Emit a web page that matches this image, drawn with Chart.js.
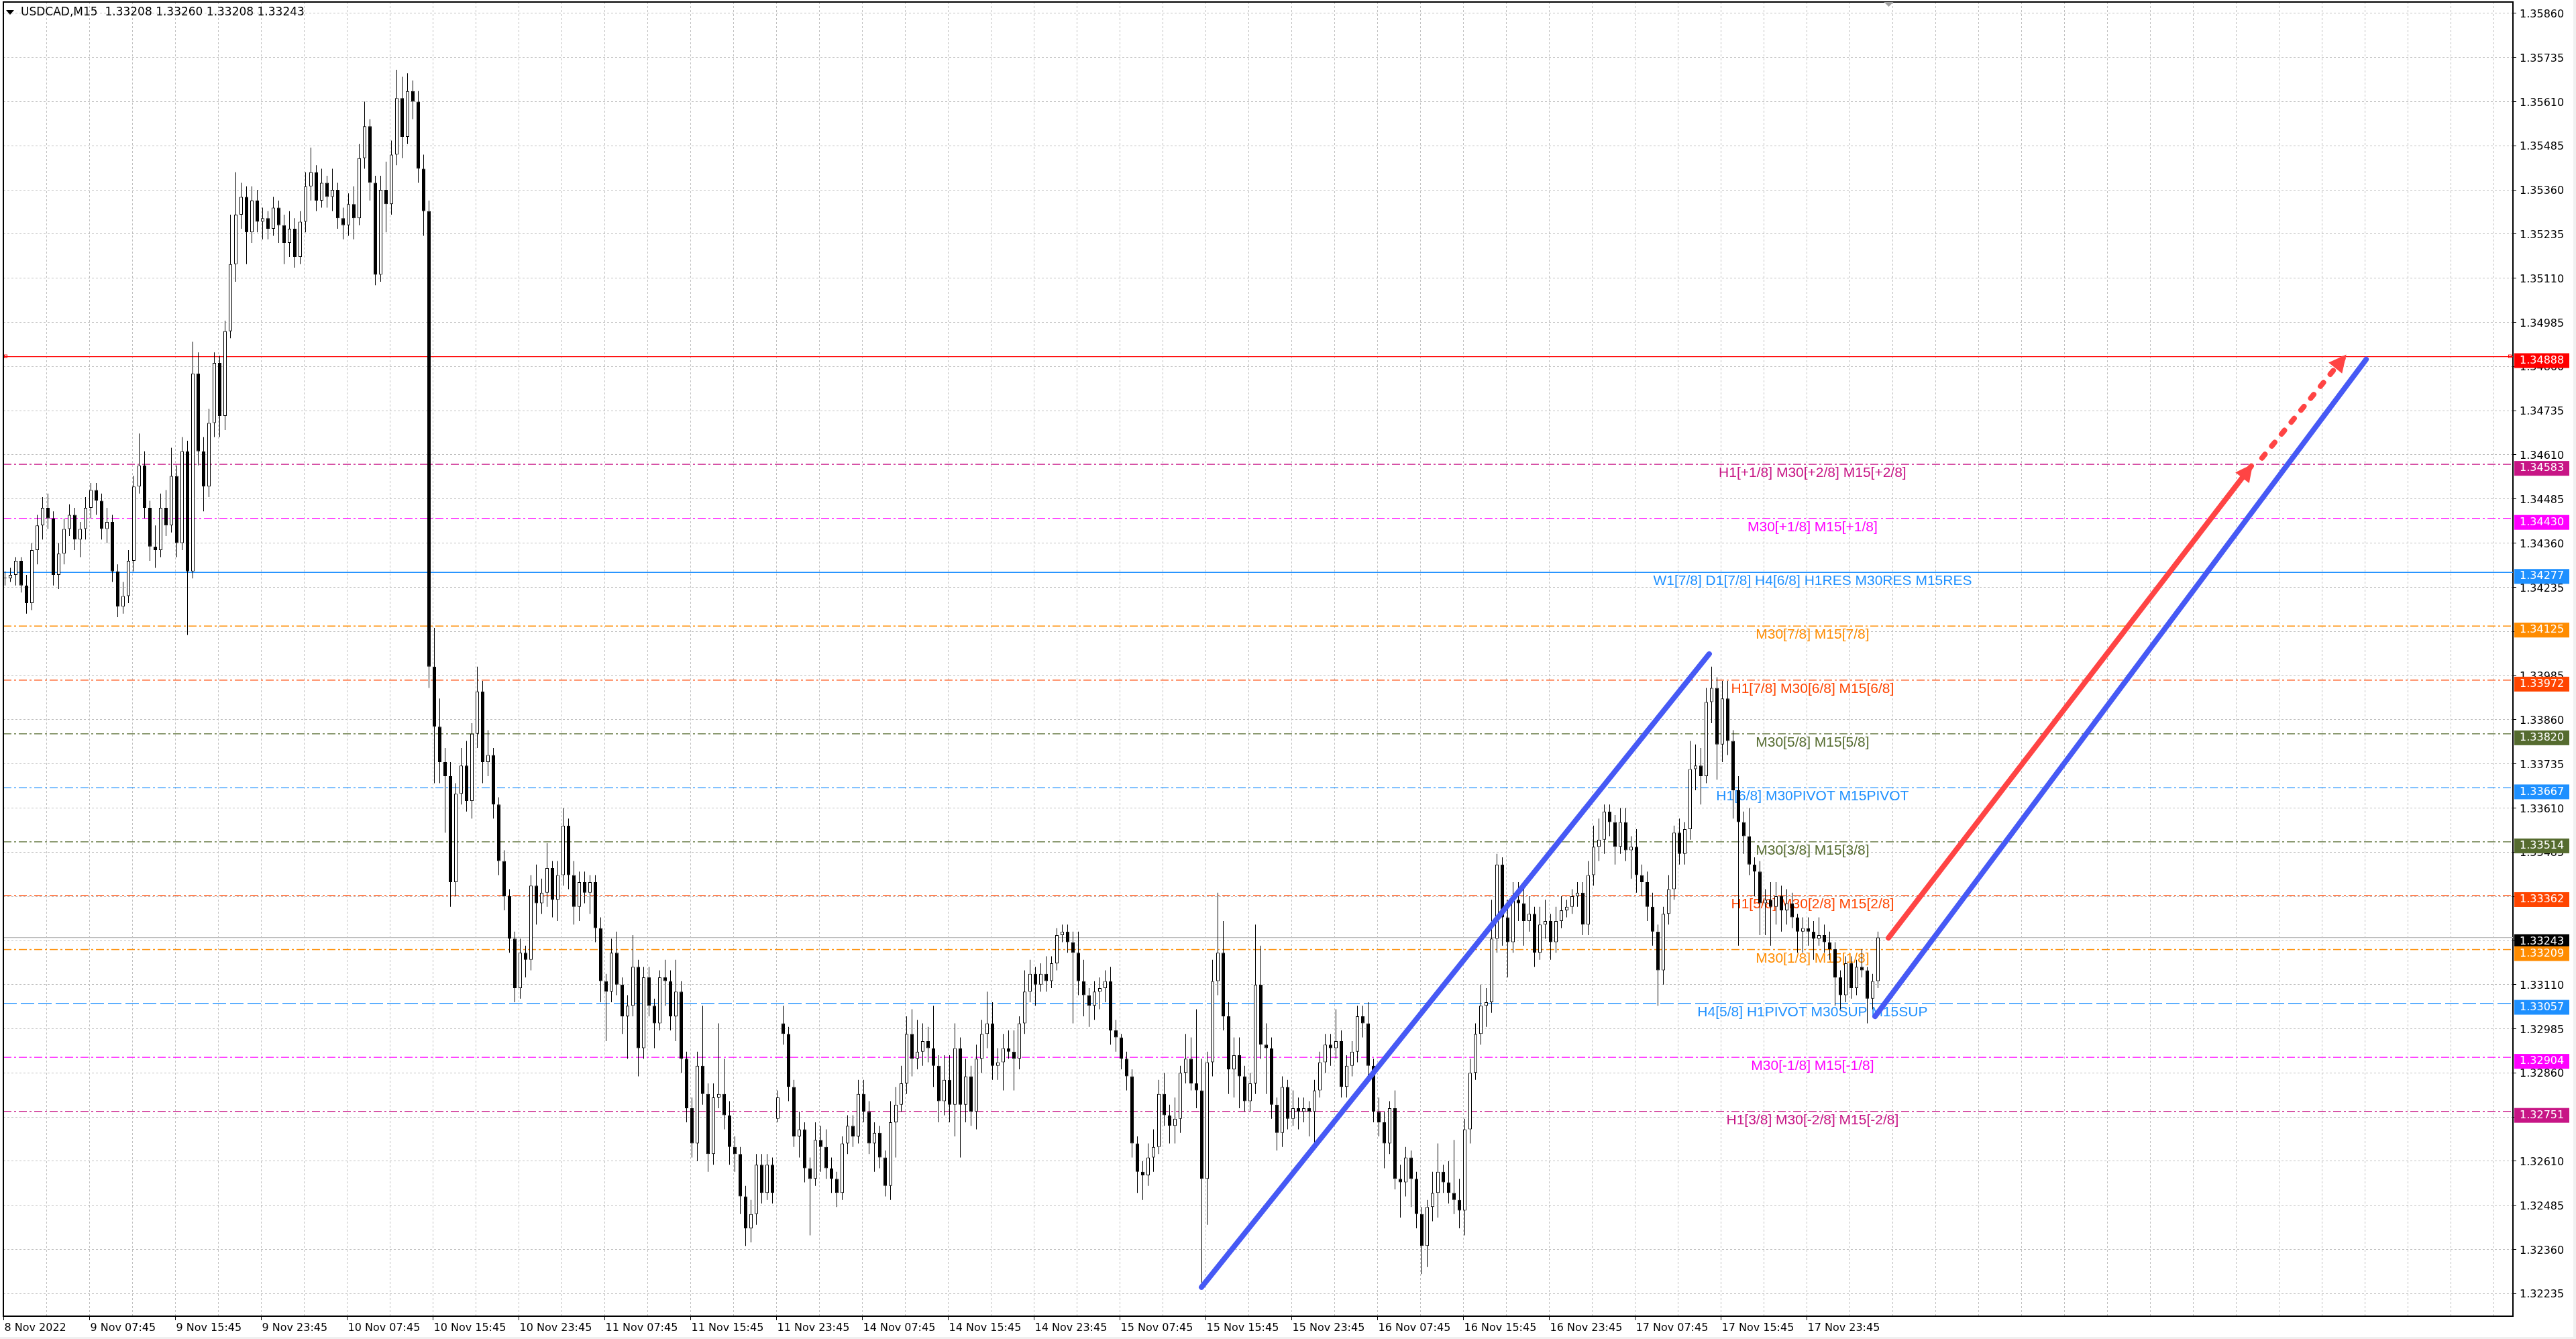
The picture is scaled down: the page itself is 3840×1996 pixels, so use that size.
<!DOCTYPE html>
<html>
<head>
<meta charset="utf-8">
<title>USDCAD,M15</title>
<script src="https://cdn.jsdelivr.net/npm/chart.js@4.4.1/dist/chart.umd.min.js"></script>
<style>
  html, body { margin: 0; padding: 0; background: #f0f0f0; overflow: hidden; }
  #wrap { width: 3836px; height: 1993px; }
</style>
</head>
<body>
<div id="wrap"><canvas id="chart" width="3836" height="1993"></canvas></div>
<script>
// ---- data (30 minute candles) ----
const symbolTitle = 'USDCAD,M15  1.33208 1.33260 1.33208 1.33243';

const opens = [
  1.3426,1.3426,1.3427,1.3431,1.3424,1.3419,1.3434,1.3441,1.3446,1.3443,
  1.3427,1.3433,1.3440,1.3444,1.3437,1.3440,1.3446,1.3451,1.3448,1.3440,
  1.3442,1.3428,1.3418,1.3421,1.3431,1.3452,1.3458,1.3446,1.3435,1.3434,
  1.3446,1.3441,1.3455,1.3436,1.3462,1.3428,1.3484,1.3462,1.3452,1.3470,
  1.3487,1.3472,1.3496,1.3515,1.3529,1.3534,1.3524,1.3533,1.3527,1.3528,
  1.3525,1.3531,1.3526,1.3521,1.3525,1.3517,1.3527,1.3537,1.3541,1.3533,
  1.3538,1.3534,1.3536,1.3528,1.3526,1.3532,1.3528,1.3545,1.3554,1.3538,
  1.3512,1.3536,1.3532,1.3546,1.3562,1.3551,1.3564,1.3561,1.3542,1.3530,
  1.3401,1.3384,1.3374,1.3370,1.3340,1.3365,1.3373,1.3363,1.3382,1.3394,
  1.3374,1.3376,1.3362,1.3346,1.3336,1.3324,1.3310,1.3320,1.3318,1.3339,
  1.3334,1.3337,1.3344,1.3335,1.3342,1.3356,1.3342,1.3333,1.3340,1.3337,
  1.3340,1.3327,1.3312,1.3309,1.3320,1.3311,1.3302,1.3305,1.3316,1.3293,
  1.3313,1.3305,1.3300,1.3313,1.3312,1.3302,1.3309,1.3290,1.3276,1.3266,
  1.3288,1.3280,1.3263,1.3279,1.3280,1.3274,1.3265,1.3263,1.3251,1.3242,
  1.3246,1.3260,1.3252,1.3260,1.3273,1.3300,1.3297,1.3282,1.3268,1.3270,
  1.3259,1.3256,1.3267,1.3265,1.3259,1.3256,1.3252,1.3266,1.3271,1.3268,
  1.3280,1.3275,1.3266,1.3269,1.3262,1.3254,1.3272,1.3277,1.3283,1.3297,
  1.3290,1.3292,1.3295,1.3293,1.3288,1.3278,1.3284,1.3277,1.3293,1.3277,
  1.3285,1.3275,1.3290,1.3297,1.3300,1.3288,1.3289,1.3293,1.3292,1.3290,
  1.3300,1.3309,1.3314,1.3311,1.3314,1.3312,1.3317,1.3325,1.3326,1.3323,
  1.3320,1.3312,1.3308,1.3305,1.3309,1.3310,1.3312,1.3298,1.3296,1.3290,
  1.3285,1.3266,1.3258,1.3257,1.3262,1.3265,1.3280,1.3274,1.3271,1.3273,
  1.3286,1.3290,1.3283,1.3281,1.3256,1.3289,1.3312,1.3320,1.3302,1.3287,
  1.3291,1.3285,1.3278,1.3283,1.3311,1.3294,1.3293,1.3277,1.3269,1.3282,
  1.3273,1.3276,1.3275,1.3276,1.3275,1.3281,1.3289,1.3294,1.3293,1.3295,
  1.3282,1.3288,1.3292,1.3302,1.3300,1.3288,1.3275,1.3272,1.3266,1.3276,
  1.3256,1.3255,1.3262,1.3256,1.3246,1.3237,1.3248,1.3252,1.3258,1.3255,
  1.3252,1.3250,1.3247,1.3270,1.3286,1.3297,1.3305,1.3306,1.3324,1.3345,
  1.3330,1.3323,1.3335,1.3334,1.3329,1.3331,1.3320,1.3328,1.3329,1.3323,
  1.3329,1.3332,1.3333,1.3336,1.3337,1.3328,1.3342,1.3350,1.3352,1.3360,
  1.3357,1.3350,1.3357,1.3349,1.3350,1.3342,1.3340,1.3333,1.3326,1.3315,
  1.3331,1.3338,1.3354,1.3348,1.3355,1.3372,1.3373,1.3370,1.3391,1.3395,
  1.3379,1.3392,1.3380,1.3366,1.3357,1.3353,1.3345,1.3343,1.3334,1.3335,
  1.3333,1.3336,1.3332,1.3334,1.3330,1.3326,1.3327,1.3326,1.3324,1.3325,
  1.3323,1.3321,1.3313,1.3308,1.3317,1.3310,1.3316,1.3315,1.3307,1.3312
];
const highs = [
  1.3428,1.3429,1.3432,1.3432,1.3427,1.3436,1.3444,1.3449,1.3450,1.3445,
  1.3436,1.3443,1.3447,1.3446,1.3442,1.3449,1.3453,1.3453,1.3450,1.3446,
  1.3444,1.3430,1.3425,1.3434,1.3455,1.3467,1.3462,1.3448,1.3441,1.3450,
  1.3451,1.3463,1.3458,1.3466,1.3465,1.3493,1.3490,1.3466,1.3474,1.3490,
  1.3489,1.3499,1.3529,1.3541,1.3538,1.3537,1.3537,1.3536,1.3531,1.3530,
  1.3534,1.3533,1.3529,1.3530,1.3528,1.3530,1.3541,1.3548,1.3543,1.3542,
  1.3540,1.3542,1.3538,1.3531,1.3535,1.3537,1.3549,1.3561,1.3556,1.3540,
  1.3540,1.3544,1.3550,1.3570,1.3568,1.3569,1.3567,1.3564,1.3546,1.3533,
  1.3412,1.3392,1.3378,1.3374,1.3368,1.3378,1.3380,1.3385,1.3401,1.3397,
  1.3383,1.3378,1.3364,1.3349,1.3338,1.3326,1.3324,1.3322,1.3342,1.3345,
  1.3341,1.3351,1.3346,1.3346,1.3361,1.3358,1.3346,1.3343,1.3343,1.3342,
  1.3342,1.3330,1.3314,1.3324,1.3326,1.3313,1.3308,1.3325,1.3318,1.3316,
  1.3316,1.3307,1.3315,1.3318,1.3315,1.3318,1.3312,1.3292,1.3279,1.3292,
  1.3305,1.3283,1.3283,1.3300,1.3290,1.3278,1.3268,1.3265,1.3254,1.3250,
  1.3263,1.3263,1.3263,1.3262,1.3281,1.3305,1.3299,1.3284,1.3275,1.3272,
  1.3262,1.3272,1.3271,1.3270,1.3262,1.3258,1.3268,1.3274,1.3274,1.3284,
  1.3284,1.3278,1.3272,1.3271,1.3264,1.3278,1.3282,1.3288,1.3302,1.3304,
  1.3301,1.3300,1.3299,1.3305,1.3291,1.3291,1.3291,1.3300,1.3296,1.3290,
  1.3288,1.3294,1.3301,1.3309,1.3306,1.3293,1.3297,1.3298,1.3298,1.3302,
  1.3315,1.3318,1.3316,1.3317,1.3319,1.3319,1.3327,1.3328,1.3328,1.3326,
  1.3326,1.3318,1.3310,1.3312,1.3313,1.3315,1.3316,1.3301,1.3297,1.3292,
  1.3287,1.3268,1.3261,1.3266,1.3270,1.3284,1.3286,1.3277,1.3279,1.3288,
  1.3297,1.3296,1.3304,1.3290,1.3292,1.3318,1.3337,1.3329,1.3306,1.3296,
  1.3296,1.3288,1.3286,1.3328,1.3322,1.3300,1.3296,1.3279,1.3285,1.3284,
  1.3281,1.3279,1.3279,1.3278,1.3284,1.3292,1.3297,1.3297,1.3304,1.3298,
  1.3291,1.3295,1.3305,1.3305,1.3306,1.3290,1.3279,1.3275,1.3278,1.3281,
  1.3260,1.3265,1.3264,1.3258,1.3248,1.3250,1.3258,1.3266,1.3260,1.3261,
  1.3267,1.3256,1.3273,1.3290,1.3300,1.3311,1.3310,1.3335,1.3348,1.3347,
  1.3335,1.3340,1.3340,1.3339,1.3336,1.3333,1.3333,1.3335,1.3331,1.3333,
  1.3336,1.3335,1.3338,1.3340,1.3340,1.3346,1.3356,1.3358,1.3362,1.3362,
  1.3359,1.3361,1.3361,1.3353,1.3355,1.3345,1.3343,1.3337,1.3328,1.3333,
  1.3342,1.3356,1.3358,1.3357,1.3380,1.3379,1.3378,1.3395,1.3401,1.3398,
  1.3397,1.3397,1.3383,1.3370,1.3360,1.3361,1.3347,1.3346,1.3338,1.3340,
  1.3340,1.3339,1.3338,1.3337,1.3331,1.3330,1.3330,1.3329,1.3330,1.3328,
  1.3326,1.3323,1.3315,1.3319,1.3319,1.3318,1.3321,1.3316,1.3314,1.3326
];
const lows = [
  1.3424,1.3425,1.3424,1.3422,1.3416,1.3417,1.3430,1.3437,1.3440,1.3424,
  1.3423,1.3430,1.3438,1.3434,1.3432,1.3437,1.3443,1.3444,1.3437,1.3436,
  1.3425,1.3415,1.3416,1.3419,1.3428,1.3450,1.3443,1.3431,1.3429,1.3432,
  1.3438,1.3439,1.3432,1.3434,1.3410,1.3426,1.3458,1.3445,1.3449,1.3466,
  1.3466,1.3468,1.3494,1.3510,1.3525,1.3515,1.3521,1.3524,1.3522,1.3522,
  1.3523,1.3521,1.3515,1.3517,1.3514,1.3515,1.3524,1.3533,1.3530,1.3531,
  1.3531,1.3530,1.3525,1.3522,1.3523,1.3522,1.3526,1.3542,1.3533,1.3509,
  1.3510,1.3524,1.3529,1.3543,1.3545,1.3549,1.3556,1.3538,1.3523,1.3395,
  1.3368,1.3368,1.3354,1.3333,1.3336,1.3362,1.3360,1.3358,1.3378,1.3368,
  1.3370,1.3358,1.3342,1.3332,1.3320,1.3306,1.3307,1.3313,1.3315,1.3328,
  1.3331,1.3333,1.3330,1.3329,1.3339,1.3338,1.3328,1.3329,1.3334,1.3331,
  1.3323,1.3306,1.3295,1.3306,1.3308,1.3297,1.3290,1.3302,1.3285,1.3290,
  1.3302,1.3293,1.3298,1.3305,1.3298,1.3295,1.3286,1.3272,1.3262,1.3261,
  1.3277,1.3258,1.3260,1.3276,1.3270,1.3260,1.3258,1.3246,1.3237,1.3238,
  1.3243,1.3249,1.3250,1.3249,1.3272,1.3294,1.3278,1.3265,1.3262,1.3255,
  1.3240,1.3254,1.3258,1.3256,1.3252,1.3248,1.3250,1.3263,1.3265,1.3266,
  1.3272,1.3263,1.3258,1.3259,1.3251,1.3250,1.3262,1.3275,1.3280,1.3285,
  1.3287,1.3288,1.3289,1.3282,1.3272,1.3274,1.3272,1.3268,1.3262,1.3272,
  1.3271,1.3270,1.3286,1.3293,1.3284,1.3284,1.3281,1.3290,1.3281,1.3287,
  1.3297,1.3306,1.3305,1.3309,1.3309,1.3310,1.3315,1.3323,1.3320,1.3300,
  1.3308,1.3302,1.3299,1.3301,1.3304,1.3306,1.3294,1.3292,1.3287,1.3281,
  1.3262,1.3252,1.3250,1.3254,1.3258,1.3263,1.3271,1.3266,1.3266,1.3269,
  1.3283,1.3281,1.3276,1.3225,1.3243,1.3285,1.3308,1.3298,1.3280,1.3279,
  1.3276,1.3275,1.3275,1.3280,1.3290,1.3280,1.3273,1.3264,1.3265,1.3270,
  1.3271,1.3270,1.3272,1.3268,1.3266,1.3279,1.3286,1.3288,1.3290,1.3279,
  1.3279,1.3285,1.3289,1.3296,1.3285,1.3272,1.3268,1.3259,1.3263,1.3253,
  1.3245,1.3251,1.3248,1.3242,1.3229,1.3231,1.3244,1.3245,1.3252,1.3249,
  1.3246,1.3242,1.3240,1.3266,1.3284,1.3294,1.3299,1.3303,1.3320,1.3322,
  1.3313,1.3320,1.3329,1.3322,1.3326,1.3316,1.3318,1.3324,1.3318,1.3320,
  1.3327,1.3330,1.3331,1.3333,1.3325,1.3325,1.3339,1.3346,1.3348,1.3353,
  1.3345,1.3348,1.3346,1.3341,1.3337,1.3336,1.3329,1.3322,1.3305,1.3311,
  1.3328,1.3335,1.3345,1.3345,1.3352,1.3366,1.3362,1.3368,1.3385,1.3369,
  1.3374,1.3376,1.3358,1.3322,1.3348,1.3342,1.3336,1.3325,1.3325,1.3322,
  1.3328,1.3326,1.3328,1.3327,1.3320,1.3320,1.3322,1.3318,1.3322,1.3320,
  1.3318,1.3305,1.3304,1.3306,1.3307,1.3308,1.3313,1.3300,1.3304,1.3310
];
const closes = [
  1.3426,1.3427,1.3431,1.3424,1.3419,1.3434,1.3441,1.3446,1.3443,1.3427,
  1.3433,1.3440,1.3444,1.3437,1.3440,1.3446,1.3451,1.3448,1.3440,1.3442,
  1.3428,1.3418,1.3421,1.3431,1.3452,1.3458,1.3446,1.3435,1.3434,1.3446,
  1.3441,1.3455,1.3436,1.3462,1.3428,1.3484,1.3462,1.3452,1.3470,1.3487,
  1.3472,1.3496,1.3515,1.3529,1.3534,1.3524,1.3533,1.3527,1.3528,1.3525,
  1.3531,1.3526,1.3521,1.3525,1.3517,1.3527,1.3537,1.3541,1.3533,1.3538,
  1.3534,1.3536,1.3528,1.3526,1.3532,1.3528,1.3545,1.3554,1.3538,1.3512,
  1.3536,1.3532,1.3546,1.3562,1.3551,1.3564,1.3561,1.3542,1.3530,1.3401,
  1.3384,1.3374,1.3370,1.3340,1.3365,1.3373,1.3363,1.3382,1.3394,1.3374,
  1.3376,1.3362,1.3346,1.3336,1.3324,1.3310,1.3320,1.3318,1.3339,1.3334,
  1.3337,1.3344,1.3335,1.3342,1.3356,1.3342,1.3333,1.3340,1.3337,1.3340,
  1.3327,1.3312,1.3309,1.3320,1.3311,1.3302,1.3305,1.3316,1.3293,1.3313,
  1.3305,1.3300,1.3313,1.3312,1.3302,1.3309,1.3290,1.3276,1.3266,1.3288,
  1.3280,1.3263,1.3279,1.3280,1.3274,1.3265,1.3263,1.3251,1.3242,1.3246,
  1.3260,1.3252,1.3260,1.3252,1.3279,1.3297,1.3282,1.3268,1.3270,1.3259,
  1.3256,1.3267,1.3265,1.3259,1.3256,1.3252,1.3266,1.3271,1.3268,1.3280,
  1.3275,1.3266,1.3269,1.3262,1.3254,1.3272,1.3277,1.3283,1.3297,1.3290,
  1.3292,1.3295,1.3293,1.3288,1.3278,1.3284,1.3277,1.3293,1.3277,1.3285,
  1.3275,1.3290,1.3297,1.3300,1.3288,1.3289,1.3293,1.3292,1.3290,1.3300,
  1.3309,1.3314,1.3311,1.3314,1.3312,1.3317,1.3325,1.3326,1.3323,1.3320,
  1.3312,1.3308,1.3305,1.3309,1.3310,1.3312,1.3298,1.3296,1.3290,1.3285,
  1.3266,1.3258,1.3257,1.3262,1.3265,1.3280,1.3274,1.3271,1.3273,1.3286,
  1.3290,1.3283,1.3281,1.3256,1.3289,1.3312,1.3320,1.3302,1.3287,1.3291,
  1.3285,1.3278,1.3283,1.3311,1.3294,1.3293,1.3277,1.3269,1.3282,1.3273,
  1.3276,1.3275,1.3276,1.3275,1.3281,1.3289,1.3294,1.3293,1.3295,1.3282,
  1.3288,1.3292,1.3302,1.3300,1.3288,1.3275,1.3272,1.3266,1.3276,1.3256,
  1.3255,1.3262,1.3256,1.3246,1.3237,1.3248,1.3252,1.3258,1.3255,1.3252,
  1.3250,1.3247,1.3270,1.3286,1.3297,1.3305,1.3306,1.3324,1.3345,1.3330,
  1.3323,1.3335,1.3334,1.3329,1.3331,1.3320,1.3328,1.3329,1.3323,1.3329,
  1.3332,1.3333,1.3336,1.3337,1.3328,1.3342,1.3350,1.3352,1.3360,1.3357,
  1.3350,1.3357,1.3349,1.3350,1.3342,1.3340,1.3333,1.3326,1.3315,1.3331,
  1.3338,1.3354,1.3348,1.3355,1.3372,1.3373,1.3370,1.3391,1.3395,1.3379,
  1.3392,1.3380,1.3366,1.3357,1.3353,1.3345,1.3343,1.3334,1.3335,1.3333,
  1.3336,1.3332,1.3334,1.3330,1.3326,1.3327,1.3326,1.3324,1.3325,1.3323,
  1.3321,1.3313,1.3308,1.3317,1.3310,1.3316,1.3315,1.3307,1.3312,1.33243
];

// time labels, one every 32 M15 bars
const timeLabels = [
  '8 Nov 2022','9 Nov 07:45','9 Nov 15:45','9 Nov 23:45','10 Nov 07:45','10 Nov 15:45',
  '10 Nov 23:45','11 Nov 07:45','11 Nov 15:45','11 Nov 23:45','14 Nov 07:45','14 Nov 15:45',
  '14 Nov 23:45','15 Nov 07:45','15 Nov 15:45','15 Nov 23:45','16 Nov 07:45','16 Nov 15:45',
  '16 Nov 23:45','17 Nov 07:45','17 Nov 15:45','17 Nov 23:45'
];

const priceTicks = [
  1.32235,1.32360,1.32485,1.32610,1.32735,1.32860,1.32985,1.33110,1.33235,1.33360,
  1.33485,1.33610,1.33735,1.33860,1.33985,1.34110,1.34235,1.34360,1.34485,1.34610,
  1.34735,1.34860,1.34985,1.35110,1.35235,1.35360,1.35485,1.35610,1.35735,1.35860
];

// murrey math levels
const levelPrices = [1.34583,1.34430,1.34277,1.34125,1.33972,1.33820,1.33667,1.33514,1.33362,1.33209,1.33057,1.32904,1.32751];
const levelNames = [
  'H1[+1/8] M30[+2/8] M15[+2/8]',
  'M30[+1/8] M15[+1/8]',
  'W1[7/8] D1[7/8] H4[6/8] H1RES M30RES M15RES',
  'M30[7/8] M15[7/8]',
  'H1[7/8] M30[6/8] M15[6/8]',
  'M30[5/8] M15[5/8]',
  'H1[6/8] M30PIVOT M15PIVOT',
  'M30[3/8] M15[3/8]',
  'H1[5/8] M30[2/8] M15[2/8]',
  'M30[1/8] M15[1/8]',
  'H4[5/8] H1PIVOT M30SUP M15SUP',
  'M30[-1/8] M15[-1/8]',
  'H1[3/8] M30[-2/8] M15[-2/8]'
];
const targetPrice = 1.34888;
const lastPrice = 1.33243;

// drawn objects: x in M15 bars, y in price
const channelUp = [{x: 446.4, y: 1.32253}, {x: 635.6, y: 1.34046}];
const channelNew = [{x: 697.4, y: 1.33020}, {x: 880.4, y: 1.34880}];
const arrowFirst = [{x: 702.4, y: 1.33242}, {x: 837.6, y: 1.34578}];
const arrowSecond = [{x: 841.6, y: 1.34601}, {x: 872.4, y: 1.34888}];
const captionBar = 674.1;
const shiftBar = 702.5;

// ---- styles ----
const levelColors = ['#c71585','#ff00ff','#1e90ff','#ff8c00','#ff4500','#556b2f','#1e90ff','#556b2f','#ff4500','#ff8c00','#1e90ff','#ff00ff','#c71585'];
const DASHDOT = [12, 4, 3, 4];
const levelDashes = levelColors.map((c, i) => i === 2 ? [] : (i === 10 ? [20, 6] : DASHDOT));
const X_MIN = -0.125, X_MAX = 935.125;
const Y_MIN = 1.32171, Y_MAX = 1.35892;
const AXIS_FONT = {family: 'DejaVu Sans', size: 16};

const candleX = closes.map((c, k) => 2 * k + 0.5);
const wickData = highs.map((h, k) => ({x: candleX[k], y: [lows[k], h]}));
const bodyData = opens.map((o, k) => ({x: candleX[k], y: [o, closes[k]]}));
const bodyFill = opens.map((o, k) => closes[k] >= o ? '#ffffff' : '#000000');

function hline(price, color, dash, order) {
  return {
    type: 'line', data: [{x: X_MIN, y: price}, {x: X_MAX, y: price}],
    borderColor: color, borderWidth: 1.3, borderDash: dash, pointRadius: 0, order: order
  };
}
function trend(points, color, dash, arrow) {
  return {
    type: 'line', data: points, borderColor: color, borderWidth: 8, borderDash: dash,
    borderCapStyle: 'round', pointRadius: 0, order: 0, arrowHead: arrow
  };
}

const datasets = [
  {type: 'bar', data: wickData, backgroundColor: '#000', barThickness: 1, grouped: false,
   inflateAmount: 0, borderWidth: 0, order: 2},
  {type: 'bar', data: bodyData, backgroundColor: bodyFill, borderColor: '#000', borderWidth: 1,
   borderSkipped: false, barThickness: 5, grouped: false, inflateAmount: 0, minBarLength: 1, order: 1},
  hline(targetPrice, '#ff0000', [], 3),
  hline(lastPrice, '#c0c0c0', [], 3)
];
levelPrices.forEach((p, i) => datasets.push(hline(p, levelColors[i], levelDashes[i], 4)));
datasets.push(trend(channelUp, '#4659f5', [], false));
datasets.push(trend(channelNew, '#4659f5', [], false));
datasets.push(trend(arrowFirst, '#ff4444', [], true));
datasets.push(trend(arrowSecond, '#ff4444', [7, 16], true));

const mt4Extras = {
  id: 'mt4Extras',
  beforeDraw(chart) {
    const ctx = chart.ctx;
    ctx.save();
    ctx.fillStyle = '#ffffff';
    ctx.fillRect(0, 0, chart.width, chart.height);
    ctx.restore();
  },
  beforeDatasetsDraw(chart) {
    const {ctx, scales: {x, y}} = chart;
    ctx.save();
    ctx.font = '21px "Liberation Sans", Arial, sans-serif';
    ctx.textAlign = 'center';
    ctx.textBaseline = 'alphabetic';
    levelPrices.forEach((p, i) => {
      ctx.fillStyle = levelColors[i];
      ctx.fillText(levelNames[i], x.getPixelForValue(captionBar), y.getPixelForValue(p) + 19);
    });
    ctx.restore();
  },
  afterDatasetsDraw(chart) {
    const ctx = chart.ctx;
    ctx.save();
    chart.data.datasets.forEach((ds, i) => {
      if (!ds.arrowHead) return;
      const pts = chart.getDatasetMeta(i).data;
      const a = pts[pts.length - 2], b = pts[pts.length - 1];
      const ang = Math.atan2(b.y - a.y, b.x - a.x);
      const ux = Math.cos(ang), uy = Math.sin(ang);
      const tx = b.x + ux * 4, ty = b.y + uy * 4;
      const bx = tx - ux * 26, by = ty - uy * 26;
      ctx.fillStyle = ds.borderColor;
      ctx.beginPath();
      ctx.moveTo(tx, ty);
      ctx.lineTo(bx - uy * 13, by + ux * 13);
      ctx.lineTo(bx + uy * 13, by - ux * 13);
      ctx.closePath();
      ctx.fill();
    });
    ctx.restore();
  },
  afterDraw(chart) {
    const {ctx, chartArea: area, scales: {x, y}} = chart;
    ctx.save();
    // frame
    ctx.strokeStyle = '#000';
    ctx.lineWidth = 2;
    ctx.beginPath();
    ctx.moveTo(area.left, area.bottom);
    ctx.lineTo(area.left, area.top);
    ctx.lineTo(area.right, area.top);
    ctx.stroke();

    // chart shift marker
    const sx = x.getPixelForValue(shiftBar);
    ctx.fillStyle = '#a0a0a0';
    ctx.beginPath();
    ctx.moveTo(sx - 7, area.top);
    ctx.lineTo(sx + 7, area.top);
    ctx.lineTo(sx, area.top + 7);
    ctx.closePath();
    ctx.fill();

    // title
    ctx.fillStyle = '#000';
    ctx.beginPath();
    ctx.moveTo(9, 15); ctx.lineTo(21, 15); ctx.lineTo(15, 22);
    ctx.closePath(); ctx.fill();
    ctx.font = '17px "DejaVu Sans"';
    ctx.textAlign = 'left';
    ctx.textBaseline = 'middle';
    ctx.fillText(symbolTitle, 31, 19);

    // small anchors on the target line
    const ty = y.getPixelForValue(targetPrice);
    ctx.strokeStyle = '#ff0000';
    ctx.lineWidth = 1;
    ctx.strokeRect(area.left + 1.5, ty - 2.5, 4, 4);
    ctx.strokeRect(area.right - 6.5, ty - 2.5, 4, 4);

    // price tags on the right scale
    ctx.font = '16px "DejaVu Sans"';
    const tag = (price, color) => {
      const py = y.getPixelForValue(price);
      ctx.fillStyle = color;
      ctx.fillRect(area.right + 2, py - 5, 82, 22);
      ctx.fillStyle = '#ffffff';
      ctx.fillText(price.toFixed(5), area.right + 10, py + 6);
    };
    tag(lastPrice, '#000000');
    levelPrices.forEach((p, i) => tag(p, levelColors[i]));
    tag(targetPrice, '#ff0000');
    ctx.restore();
  }
};

Chart.defaults.font.family = 'DejaVu Sans';

new Chart(document.getElementById('chart'), {
  type: 'bar',
  data: {datasets: datasets},
  plugins: [mt4Extras],
  options: {
    responsive: false,
    devicePixelRatio: 1,
    animation: false,
    events: [],
    layout: {padding: {left: 5, top: 3, right: 0, bottom: 0}},
    plugins: {legend: {display: false}, tooltip: {enabled: false}},
    scales: {
      x: {
        type: 'linear', position: 'bottom', min: X_MIN, max: X_MAX, offset: false,
        afterBuildTicks(scale) {
          const t = [];
          for (let v = 0; v <= 928; v += 16) t.push({value: v});
          scale.ticks = t;
        },
        afterFit(scale) { scale.height = 31; scale.paddingLeft = 0; scale.paddingRight = 0; },
        ticks: {
          autoSkip: false, maxRotation: 0, minRotation: 0, align: 'start', labelOffset: 1, padding: 2,
          color: '#000', font: AXIS_FONT,
          callback: v => (v % 32 === 0 && v / 32 < timeLabels.length) ? timeLabels[v / 32] : ''
        },
        grid: {
          offset: false, color: '#c0c0c0', lineWidth: 1, tickLength: 6,
          tickColor: c => (c.tick && c.tick.value % 32 === 0 && c.tick.value / 32 < timeLabels.length) ? '#000' : 'rgba(0,0,0,0)'
        },
        border: {display: true, color: '#000', width: 2, dash: [3, 3]}
      },
      y: {
        type: 'linear', position: 'right', min: Y_MIN, max: Y_MAX, beginAtZero: false,
        afterBuildTicks(scale) { scale.ticks = priceTicks.map(v => ({value: v})); },
        afterFit(scale) { scale.width = 90; scale.paddingTop = 0; scale.paddingBottom = 0; },
        ticks: {
          autoSkip: false, padding: 5, labelOffset: 2, color: '#000', font: AXIS_FONT,
          callback: v => Number(v).toFixed(5)
        },
        grid: {color: '#c0c0c0', lineWidth: 1, tickLength: 5, tickColor: '#000'},
        border: {display: true, color: '#000', width: 2, dash: [3, 3]}
      }
    }
  }
});
</script>
</body>
</html>
